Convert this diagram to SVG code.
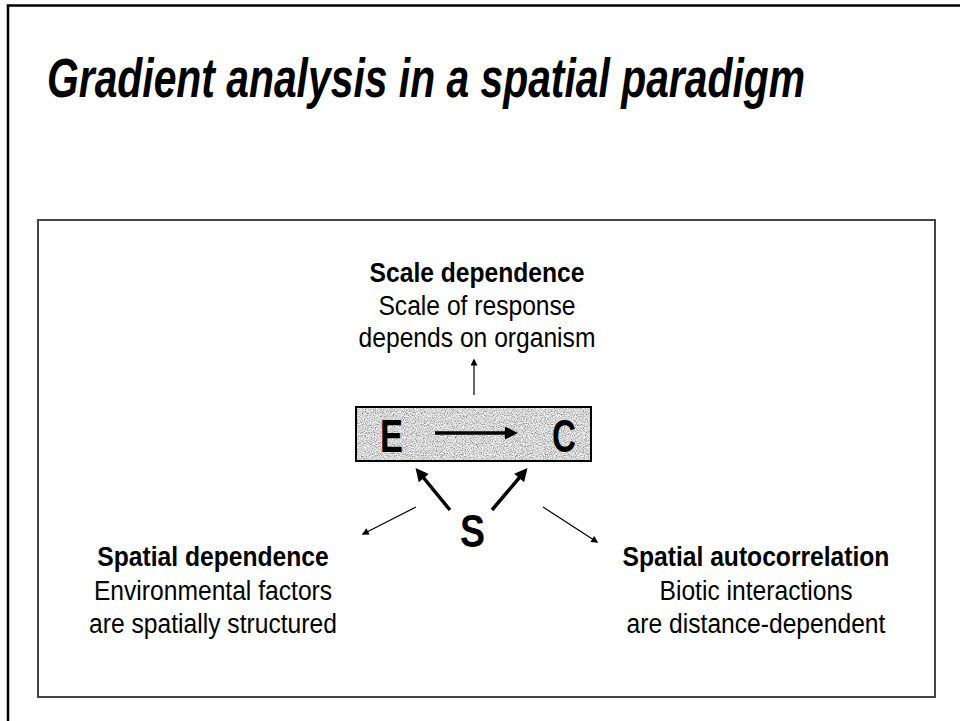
<svg xmlns="http://www.w3.org/2000/svg" width="960" height="721" viewBox="0 0 960 721">
<style>
.t{font-family:"Liberation Sans",Arial,sans-serif;fill:#000;}
.b{font-weight:bold;}
.n{font-size:28px;text-anchor:middle;}
.big{font-size:46px;font-weight:bold;}
.thin{stroke:#000;stroke-width:1.2;fill:none;marker-end:url(#hs);}
.thick{stroke:#000;stroke-width:3.5;fill:none;marker-end:url(#hb);}
</style>
<defs>
<marker id="hs" viewBox="0 0 10 10" refX="8" refY="5" markerWidth="9" markerHeight="7" markerUnits="userSpaceOnUse" orient="auto">
<path d="M0,0 L10,5 L0,10 z" fill="#000"/>
</marker>
<marker id="hb" viewBox="0 0 10 10" refX="7" refY="5" markerWidth="15" markerHeight="13" markerUnits="userSpaceOnUse" orient="auto">
<path d="M0,0 L10,5 L0,10 z" fill="#000"/>
</marker>
<filter id="grain" x="0" y="0" width="100%" height="100%">
<feTurbulence type="fractalNoise" baseFrequency="0.9" numOctaves="2" seed="7"/>
<feColorMatrix type="matrix" values="1.5 0 0 0 -0.08  1.5 0 0 0 -0.08  1.5 0 0 0 -0.08  0 0 0 0 1"/>
</filter>
</defs>
<rect width="960" height="721" fill="#fff"/>
<rect x="8" y="5.5" width="1000" height="1000" fill="none" stroke="#000" stroke-width="2.5"/>
<text class="t b" x="47" y="97" font-size="56" font-style="italic" textLength="758" lengthAdjust="spacingAndGlyphs">Gradient analysis in a spatial paradigm</text>
<rect x="38" y="220" width="897" height="477" fill="none" stroke="#444" stroke-width="2"/>

<g id="scale">
<text class="t n b" transform="translate(477,282) scale(0.88,1)">Scale dependence</text>
<text class="t n" transform="translate(477,315) scale(0.88,1)">Scale of response</text>
<text class="t n" transform="translate(477,347) scale(0.88,1)">depends on organism</text>
</g>

<g id="ec">
<rect x="356" y="407" width="235" height="54" fill="#fff" filter="url(#grain)"/>
<rect x="356" y="407" width="235" height="54" fill="none" stroke="#000" stroke-width="2"/>
<text class="t big" x="380" y="452" textLength="23" lengthAdjust="spacingAndGlyphs">E</text>
<text class="t big" x="552" y="452" textLength="24" lengthAdjust="spacingAndGlyphs">C</text>
</g>

<g id="s">
<text class="t big" x="460" y="547" textLength="25" lengthAdjust="spacingAndGlyphs">S</text>
</g>

<g id="spatdep">
<text class="t n b" transform="translate(213,566) scale(0.88,1)">Spatial dependence</text>
<text class="t n" transform="translate(213,600) scale(0.88,1)">Environmental factors</text>
<text class="t n" transform="translate(213,633) scale(0.88,1)">are spatially structured</text>
</g>

<g id="autocorr">
<text class="t n b" transform="translate(756,566) scale(0.88,1)">Spatial autocorrelation</text>
<text class="t n" transform="translate(756,600) scale(0.88,1)">Biotic interactions</text>
<text class="t n" transform="translate(756,633) scale(0.88,1)">are distance-dependent</text>
</g>

<g id="connectors">
<line class="thin" x1="474" y1="395" x2="474" y2="360"/>
<line class="thin" x1="416" y1="507" x2="363" y2="534"/>
<line class="thin" x1="543" y1="507" x2="597" y2="542"/>
<line class="thick" x1="435" y1="433" x2="514" y2="433"/>
<line class="thick" x1="450" y1="510" x2="418" y2="471"/>
<line class="thick" x1="492" y1="510" x2="525" y2="471"/>
</g>
</svg>
